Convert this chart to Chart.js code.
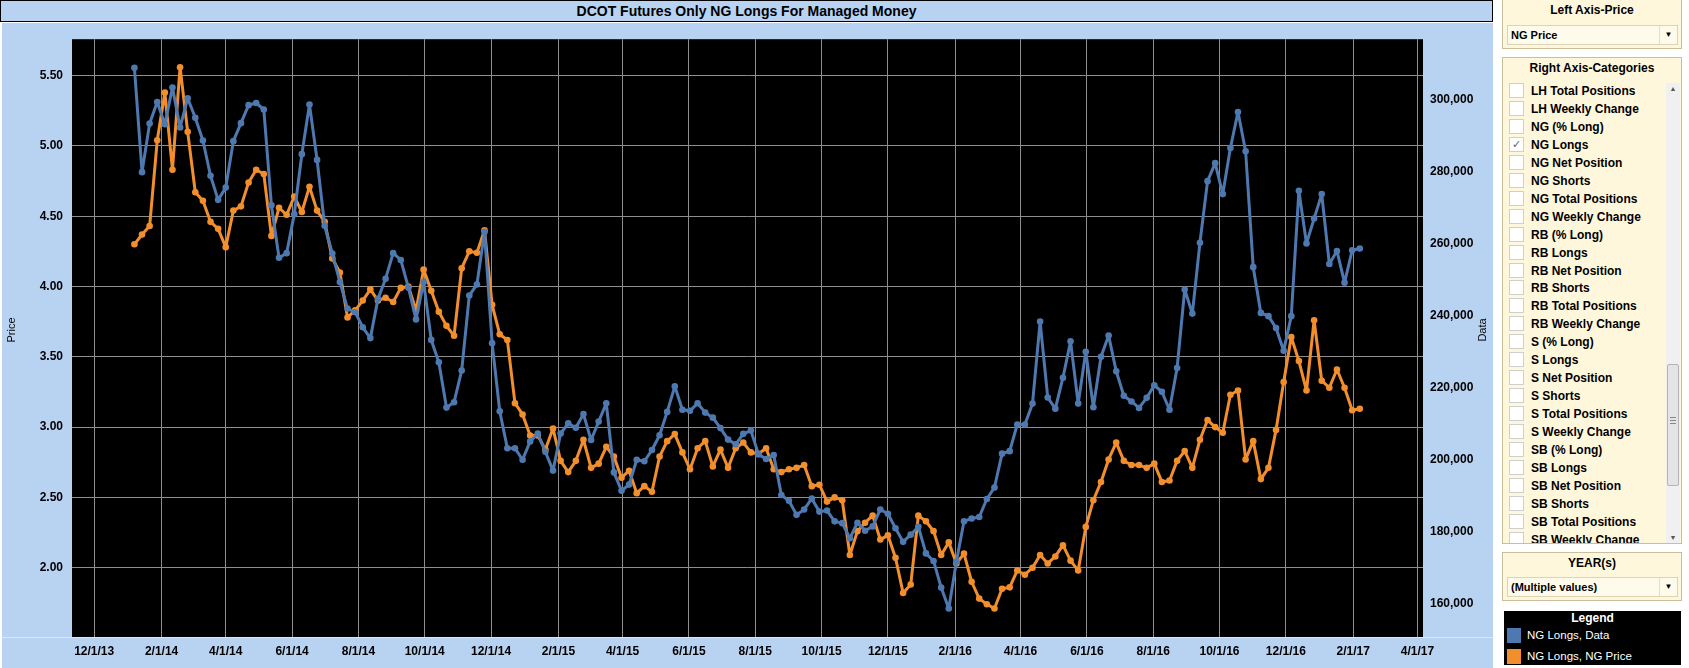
<!DOCTYPE html>
<html>
<head>
<meta charset="utf-8">
<title>DCOT Futures Only NG Longs For Managed Money</title>
<script src="https://cdn.jsdelivr.net/npm/chart.js@4.4.1/dist/chart.umd.min.js"></script>
<style>
  body { margin: 0; width: 1689px; height: 668px; overflow: hidden; background: #fff; position: relative;
         font-family: 'Liberation Sans', Arial, sans-serif; }
  #titleBar { position: absolute; left: 0; top: 0; width: 1491px; height: 20px; border: 1px solid #000;
              background: #b8d2f2; font-weight: bold; font-size: 14px; line-height: 20px; text-align: center; }
  #chartBox { position: absolute; left: 2px; top: 23px; width: 1491px; height: 645px; }
  .axisTitle { position: absolute; font-size: 11px; color: #000; transform: rotate(-90deg); transform-origin: center; white-space: nowrap; }
  .panel { position: absolute; left: 1502px; width: 178px; background: #fff7dc; border: 1px solid #cbbf9b; }
  .panelTitle { position: absolute; left: 0; width: 100%; text-align: center; font-weight: bold; font-size: 12px; }
  .dropdown { position: absolute; left: 4px; width: 169px; height: 18px; background: #fffbea; border: 1px solid #ddd4b7;
              font-weight: bold; font-size: 11px; line-height: 18px; }
  .dropdown span.txt { position: absolute; left: 3px; }
  .dropdown span.arrow { position: absolute; right: 0; top: 0; width: 17px; height: 18px; border-left: 1px solid #e6dfc6;
                         text-align: center; font-size: 8px; }
  #catList { position: absolute; left: 0; top: 23px; width: 164px; height: 462px; overflow: hidden; }
  .item { position: absolute; left: 6px; height: 18px; font-weight: bold; font-size: 12px; line-height: 18px; white-space: nowrap; }
  .item .box { position: absolute; left: 0; top: 1px; width: 13px; height: 13px; background: #fff; border: 1px solid #cfcfcf;
               font-size: 11px; line-height: 13px; text-align: center; color: #666; font-family: 'DejaVu Sans', sans-serif; }
  .item .lbl { position: absolute; left: 22px; }
  #scroll { position: absolute; left: 163px; top: 25px; width: 14px; height: 460px; background: #f0f0f0; }
  #thumb { position: absolute; left: 1px; top: 281px; width: 10px; height: 120px; background: #e4e4e4; border: 1px solid #b4b4b4; border-radius: 2px; }
  #legendBox { position: absolute; left: 1504px; top: 611px; width: 177px; height: 54px; background: #000; color: #fff; }
  #legendBox .head { position: absolute; left: 0; top: 0; width: 100%; text-align: center; font-weight: bold; font-size: 12px; line-height: 14px; }
  #legendBox .row { position: absolute; left: 3px; height: 15px; font-size: 11.5px; line-height: 15px; white-space: nowrap; }
  #legendBox .sw { position: absolute; left: 0; top: 0; width: 14px; height: 15px; }
  #legendBox .row span.t { position: absolute; left: 20px; }
</style>
</head>
<body>
<div id="chartBox"><canvas id="ngChart"></canvas></div>
<div id="titleBar">DCOT Futures Only NG Longs For Managed Money</div>
<div class="axisTitle" style="left:-6px; top:324px; width:34px; text-align:center;">Price</div>
<div class="axisTitle" style="left:1465px; top:324px; width:34px; text-align:center;">Data</div>

<div class="panel" style="top:-1px; height:48px;">
  <div class="panelTitle" style="top:3px;">Left Axis-Price</div>
  <div class="dropdown" style="top:25px;"><span class="txt">NG Price</span><span class="arrow">&#9660;</span></div>
</div>

<div class="panel" id="catPanel" style="top:57px; height:485px;">
  <div class="panelTitle" style="top:3px;">Right Axis-Categories</div>
  <div id="catList"></div>
  <div id="scroll">
    <div style="position:absolute; left:0; top:2px; width:14px; text-align:center; font-size:7px; color:#555;">&#9650;</div>
    <div id="thumb"><div style="position:absolute; top:52px; left:2px; width:6px; height:1px; background:#888; box-shadow:0 3px 0 #888, 0 6px 0 #888;"></div></div>
    <div style="position:absolute; left:0; bottom:2px; width:14px; text-align:center; font-size:7px; color:#555;">&#9660;</div>
  </div>
</div>

<div class="panel" style="top:552px; height:47px;">
  <div class="panelTitle" style="top:3px;">YEAR(s)</div>
  <div class="dropdown" style="top:24px;"><span class="txt">(Multiple values)</span><span class="arrow">&#9660;</span></div>
</div>

<div id="legendBox">
  <div class="head">Legend</div>
  <div class="row" style="top:17px;"><div class="sw" style="background:#4e79b0;"></div><span class="t">NG Longs, Data</span></div>
  <div class="row" style="top:38px;"><div class="sw" style="background:#f28e2b;"></div><span class="t">NG Longs, NG Price</span></div>
</div>

<script>
// weekly report dates, first one is Tue 1/7/14
const firstReport = Date.UTC(2014, 0, 7);
const DAY = 86400000;

// NG Longs for managed money (right axis, "Data")
const longsData = [
  308900, 279900, 293400, 299400, 293200, 303400, 292300, 300400, 295000, 288700,
  278900, 272200, 275600, 288500, 293500, 298500, 299100, 297300, 270700, 256100,
  257400, 268200, 284900, 298700, 283300, 265000, 257300, 249400, 242000, 241000,
  236800, 233800, 244700, 250300, 257400, 255500, 247800, 239000, 249400, 233300,
  227100, 214500, 216000, 224800, 245600, 248700, 263300, 232400, 213500, 203200,
  203200, 200000, 205100, 207300, 202200, 197000, 207300, 210100, 208900, 212700,
  205500, 210600, 215700, 196500, 191400, 193100, 200000, 199600, 202700, 206800,
  213300, 220400, 213900, 213600, 215700, 213100, 211700, 208800, 205600, 204300,
  207200, 208100, 201500, 200200, 201300, 190200, 188600, 184700, 186200, 189200,
  185600, 185900, 182900, 182400, 178200, 182500, 180300, 181500, 186200, 185000,
  181000, 177200, 179200, 181400, 174000, 171900, 164500, 158700, 171700, 182900,
  183700, 184100, 189100, 192300, 201700, 202400, 209800, 209800, 215600, 238400,
  217300, 214200, 222800, 232900, 215600, 230000, 214600, 228600, 234500, 224600,
  217800, 216200, 214400, 217200, 220700, 218900, 213900, 225500, 247300, 240600,
  260300, 277400, 282400, 273800, 286600, 296600, 285700, 253500, 240800, 239900,
  236600, 230300, 239900, 274700, 260100, 267000, 273800, 254400, 258000, 249200,
  258200, 258700
];

// NG price (left axis, "Price")
const ngPrice = [
  4.30, 4.37, 4.43, 5.04, 5.38, 4.83, 5.56, 5.10, 4.67, 4.61,
  4.46, 4.41, 4.28, 4.54, 4.57, 4.74, 4.83, 4.80, 4.36, 4.56,
  4.51, 4.64, 4.53, 4.71, 4.54, 4.46, 4.20, 4.10, 3.78, 3.83,
  3.90, 3.98, 3.90, 3.92, 3.89, 3.99, 4.00, 3.83, 4.12, 3.97,
  3.82, 3.72, 3.65, 4.13, 4.25, 4.24, 4.40, 3.87, 3.66, 3.62,
  3.17, 3.09, 2.94, 2.94, 2.84, 2.99, 2.76, 2.68, 2.76, 2.91,
  2.71, 2.74, 2.86, 2.79, 2.64, 2.69, 2.53, 2.58, 2.54, 2.79,
  2.90, 2.95, 2.82, 2.70, 2.85, 2.90, 2.72, 2.84, 2.71, 2.85,
  2.89, 2.82, 2.81, 2.85, 2.70, 2.68, 2.70, 2.71, 2.73, 2.58,
  2.59, 2.47, 2.50, 2.48, 2.09, 2.26, 2.32, 2.37, 2.20, 2.23,
  2.07, 1.82, 1.88, 2.37, 2.33, 2.26, 2.09, 2.18, 2.03, 2.10,
  1.90, 1.78, 1.74, 1.71, 1.85, 1.86, 1.98, 1.95, 2.00, 2.09,
  2.03, 2.08, 2.16, 2.05, 1.98, 2.29, 2.48, 2.61, 2.77, 2.89,
  2.76, 2.73, 2.73, 2.71, 2.74, 2.61, 2.62, 2.76, 2.83, 2.71,
  2.91, 3.05, 3.00, 2.96, 3.23, 3.26, 2.77, 2.90, 2.63, 2.71,
  2.98, 3.32, 3.64, 3.47, 3.26, 3.76, 3.33, 3.28, 3.41, 3.28,
  3.12, 3.13
];

const dateTicks = ['12/1/13', '2/1/14', '4/1/14', '6/1/14', '8/1/14', '10/1/14', '12/1/14',
  '2/1/15', '4/1/15', '6/1/15', '8/1/15', '10/1/15', '12/1/15', '2/1/16', '4/1/16',
  '6/1/16', '8/1/16', '10/1/16', '12/1/16', '2/1/17', '4/1/17'];
const priceTicks = [2.00, 2.50, 3.00, 3.50, 4.00, 4.50, 5.00, 5.50];
const longsTicks = [160000, 180000, 200000, 220000, 240000, 260000, 280000, 300000];

const categoryOptions = ['LH Total Positions', 'LH Weekly Change', 'NG (% Long)', 'NG Longs',
  'NG Net Position', 'NG Shorts', 'NG Total Positions', 'NG Weekly Change', 'RB (% Long)',
  'RB Longs', 'RB Net Position', 'RB Shorts', 'RB Total Positions', 'RB Weekly Change',
  'S (% Long)', 'S Longs', 'S Net Position', 'S Shorts', 'S Total Positions', 'S Weekly Change',
  'SB (% Long)', 'SB Longs', 'SB Net Position', 'SB Shorts', 'SB Total Positions', 'SB Weekly Change'];
const checkedOption = 'NG Longs';

// "m/d/yy" -> UTC ms
function parseTick(s) {
    const p = s.split('/');
    return Date.UTC(2000 + Number(p[2]), Number(p[0]) - 1, Number(p[1]));
}

const reportDates = longsData.map((v, i) => firstReport + i * 7 * DAY);
const tickValues = dateTicks.map(parseTick);

// build the category list on the right
const list = document.getElementById('catList');
categoryOptions.forEach((name, i) => {
    const row = document.createElement('div');
    row.className = 'item';
    row.style.top = (i * 17.95 + 1) + 'px';
    const box = document.createElement('div');
    box.className = 'box';
    if (name === checkedOption) box.textContent = '\u2713';
    const lbl = document.createElement('span');
    lbl.className = 'lbl';
    lbl.textContent = name;
    row.appendChild(box);
    row.appendChild(lbl);
    list.appendChild(row);
});

// light blue frame + black plot area
const backgroundPlugin = {
    id: 'tableauBackground',
    beforeDraw(chart) {
        const { ctx, chartArea, width, height } = chart;
        ctx.save();
        ctx.fillStyle = '#b8d2f2';
        ctx.fillRect(0, 0, width, height);
        ctx.fillStyle = '#000';
        ctx.fillRect(chartArea.left, chartArea.top, chartArea.right - chartArea.left, chartArea.bottom - chartArea.top);
        ctx.fillStyle = '#dbe7f7';
        ctx.fillRect(0, chartArea.bottom, width, 1);
        ctx.restore();
    }
};

const tickFont = { family: "'Liberation Sans', Arial, sans-serif", size: 12, weight: 'bold' };
const gridColor = '#8e8e8e';

new Chart(document.getElementById('ngChart'), {
    type: 'line',
    data: {
        datasets: [
            {
                label: 'NG Longs, Data',
                data: reportDates.map((x, i) => ({ x: x, y: longsData[i] })),
                yAxisID: 'longs',
                borderColor: '#4e79b0',
                backgroundColor: '#4e79b0',
                borderWidth: 3,
                borderJoinStyle: 'round',
                borderCapStyle: 'round',
                pointRadius: 3.3,
                pointBorderWidth: 0,
                tension: 0,
                order: 0
            },
            {
                label: 'NG Longs, NG Price',
                data: reportDates.map((x, i) => ({ x: x, y: ngPrice[i] })),
                yAxisID: 'price',
                borderColor: '#f28e2b',
                backgroundColor: '#f28e2b',
                borderWidth: 3,
                borderJoinStyle: 'round',
                borderCapStyle: 'round',
                pointRadius: 3.3,
                pointBorderWidth: 0,
                tension: 0,
                order: 1
            }
        ]
    },
    options: {
        responsive: true,
        maintainAspectRatio: false,
        animation: false,
        layout: { padding: { top: 2, left: 0, right: 0, bottom: 0 } },
        plugins: {
            legend: { display: false },
            tooltip: { enabled: false }
        },
        scales: {
            x: {
                type: 'linear',
                min: Date.UTC(2013, 11, 1) - 20.4 * DAY,
                max: Date.UTC(2017, 3, 1) + 5.15 * DAY,
                afterBuildTicks: scale => { scale.ticks = tickValues.map(v => ({ value: v })); },
                afterFit: scale => { scale.height = 31; },
                ticks: {
                    autoSkip: false,
                    maxRotation: 0,
                    padding: 7,
                    color: '#000',
                    font: tickFont,
                    callback: (value, index) => dateTicks[index]
                },
                grid: { color: gridColor, lineWidth: 1, drawTicks: false },
                border: { display: false }
            },
            price: {
                type: 'linear',
                position: 'left',
                min: 1.507,
                max: 5.759,
                afterBuildTicks: scale => { scale.ticks = priceTicks.map(v => ({ value: v })); },
                afterFit: scale => { scale.width = 70; },
                ticks: {
                    padding: 9,
                    color: '#000',
                    font: tickFont,
                    callback: value => value.toFixed(2)
                },
                grid: { color: gridColor, lineWidth: 1, drawTicks: false },
                border: { display: false }
            },
            longs: {
                type: 'linear',
                position: 'right',
                min: 150775,
                max: 316823,
                afterBuildTicks: scale => { scale.ticks = longsTicks.map(v => ({ value: v })); },
                afterFit: scale => { scale.width = 70; },
                ticks: {
                    padding: 7,
                    color: '#000',
                    font: tickFont,
                    callback: value => value.toLocaleString('en-US')
                },
                grid: { display: false, drawTicks: false },
                border: { display: false }
            }
        }
    },
    plugins: [backgroundPlugin]
});
</script>
</body>
</html>
